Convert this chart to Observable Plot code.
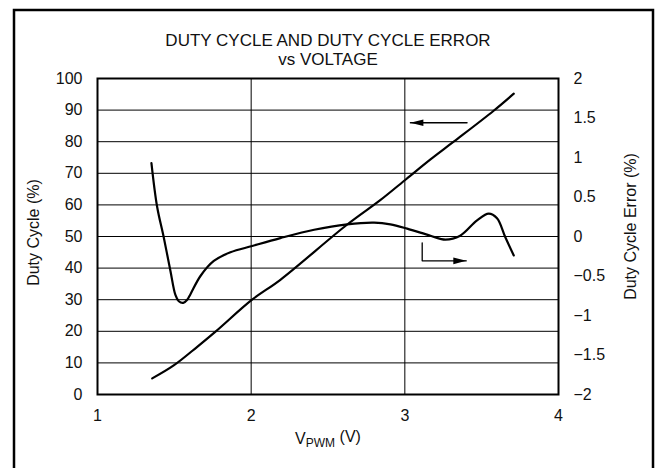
<!DOCTYPE html>
<html><head><meta charset="utf-8">
<script src="https://cdn.jsdelivr.net/npm/d3@7"></script>
<script src="https://cdn.jsdelivr.net/npm/@observablehq/plot@0.6"></script>
<style>body{margin:0;background:#fff;overflow:hidden}</style>
</head><body><div id="chart"></div>
<script>
// ---- data ----
const dutyV   = [1.356, 1.496, 1.649, 1.768, 2.006, 2.19, 2.625, 2.84, 3.01, 3.167, 3.318, 3.578, 3.709];
const dutyPct = [5.1, 9.2, 15.1, 19.9, 30.0, 36.3, 53.8, 61.5, 68.2, 74.4, 80.0, 89.8, 95.2];
const errV    = [1.351, 1.388, 1.431, 1.475, 1.507, 1.529, 1.558, 1.584, 1.605, 1.670, 1.757, 1.865, 2.007, 2.19, 2.41, 2.625, 2.80, 2.906, 3.015, 3.167, 3.264, 3.36, 3.47, 3.546, 3.60, 3.654, 3.709];
const errPct  = [0.93, 0.376, -0.01, -0.44, -0.74, -0.82, -0.84, -0.80, -0.73, -0.50, -0.31, -0.20, -0.12, -0.02, 0.086, 0.154, 0.175, 0.154, 0.10, 0.01, -0.04, 0.01, 0.205, 0.29, 0.23, -0.01, -0.24];
const xTicks = [1, 2, 3, 4];
const xGrid = [2, 3];
const yTicks = [0, 10, 20, 30, 40, 50, 60, 70, 80, 90, 100];
const errTicks = [-2, -1.5, -1, -0.5, 0, 0.5, 1, 1.5, 2];
const titleLines = ["DUTY CYCLE AND DUTY CYCLE ERROR", "vs VOLTAGE"];
const yLabel = "Duty Cycle (%)";
const y2Label = "Duty Cycle Error (%)";
const xLabel = "VPWM (V)";
// annotation arrows (left-axis units)
const leftArrowV = [3.405, 3.036];
const leftArrowPct = [86, 86];
const rightArrowV = [3.113, 3.113, 3.40];
const rightArrowPct = [48.0, 42.3, 42.3];

// ---- helpers ----
const toLeft = e => (e + 2) * 25;           // error % -> left axis units
const fromLeft = v => v / 25 - 2;
const fmt = v => v < 0 ? "\u2212" + String(-v) : String(v);
const duty = dutyV.map((v, i) => ({v, y: dutyPct[i]}));
const err = errV.map((v, i) => ({v, y: toLeft(errPct[i])}));
const arrL = leftArrowV.map((v, i) => ({v, y: leftArrowPct[i]}));
const arrR = rightArrowV.map((v, i) => ({v, y: rightArrowPct[i]}));
const headLeft = {draw(ctx) { ctx.moveTo(0, 0); ctx.lineTo(13, -3.3); ctx.lineTo(13, 3.3); ctx.closePath(); }};
const headRight = {draw(ctx) { ctx.moveTo(0, 0); ctx.lineTo(-13, -3.3); ctx.lineTo(-13, 3.3); ctx.closePath(); }};

const font = "'Liberation Sans', Arial, Helvetica, sans-serif";

const plot = Plot.plot({
  width: 660, height: 468,
  marginLeft: 97, marginRight: 102, marginTop: 78, marginBottom: 74,
  style: {fontFamily: font, fontSize: "16px", background: "white", color: "#111", overflow: "hidden"},
  x: {domain: [1, 4]},
  y: {domain: [0, 100]},
  marks: [
    Plot.gridY(yTicks, {stroke: "black", strokeOpacity: 1, strokeWidth: 1}),
    Plot.gridX(xGrid, {stroke: "black", strokeOpacity: 1, strokeWidth: 1}),
    Plot.frame({stroke: "black", strokeWidth: 2}),
    Plot.axisX({ticks: xTicks, tickSize: 0, tickPadding: 15, tickFormat: fmt, label: null, fontSize: 16}),
    Plot.axisY({anchor: "left", ticks: yTicks, tickSize: 0, tickPadding: 15, tickFormat: fmt, label: null, fontSize: 16}),
    Plot.axisY({anchor: "right", ticks: errTicks.map(toLeft), tickSize: 0, tickPadding: 15, tickFormat: v => fmt(fromLeft(v)), label: null, fontSize: 16}),
    Plot.line(duty, {x: "v", y: "y", curve: "catmull-rom", stroke: "black", strokeWidth: 2.2}),
    Plot.line(err, {x: "v", y: "y", curve: "catmull-rom", stroke: "black", strokeWidth: 2.2}),
    Plot.line(arrL, {x: "v", y: "y", stroke: "black", strokeWidth: 1.3}),
    Plot.dot(arrL.slice(-1), {x: "v", y: "y", symbol: headLeft, fill: "black", stroke: "none", r: 4}),
    Plot.line(arrR, {x: "v", y: "y", stroke: "black", strokeWidth: 1.3}),
    Plot.dot(arrR.slice(-1), {x: "v", y: "y", symbol: headRight, fill: "black", stroke: "none", r: 4}),
    Plot.text([titleLines[0]], {frameAnchor: "top", dy: -45, fontSize: 17, fill: "#111"}),
    Plot.text([titleLines[1]], {frameAnchor: "top", dy: -25.5, fontSize: 17, fill: "#111"}),
    Plot.text([yLabel], {frameAnchor: "left", textAnchor: "middle", dx: -64, dy: -4, rotate: -90, fontSize: 16, fill: "#111"}),
    Plot.text([y2Label], {frameAnchor: "right", textAnchor: "middle", dx: 72, dy: -10, rotate: -90, fontSize: 16, fill: "#111"}),
    Plot.text([xLabel], {frameAnchor: "bottom", dy: 49, fontSize: 16, fill: "#111"})
  ]
});

// subscript for V_PWM and outer border
const svg = d3.select(plot);
svg.selectAll("text").filter(function () { return this.textContent === xLabel; }).each(function () {
  const t = d3.select(this);
  t.text(null);
  t.append("tspan").text("V");
  t.append("tspan").attr("font-size", 12).attr("dy", "0.3em").text("PWM");
  t.append("tspan").attr("dy", "-0.3em").text(" (V)");
});
svg.append("rect").attr("x", 14).attr("y", 10).attr("width", 639).attr("height", 470)
  .attr("fill", "none").attr("stroke", "black").attr("stroke-width", 2.5);

document.getElementById("chart").append(plot);
</script>
</body></html>
